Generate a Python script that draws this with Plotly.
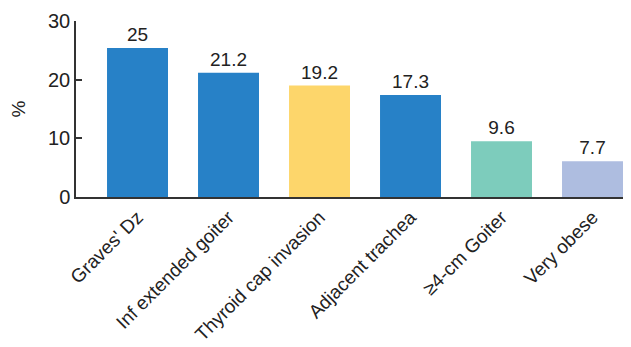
import plotly.graph_objects as go

categories = ["Graves' Dz", "Inf extended goiter", "Thyroid cap invasion",
              "Adjacent trachea", "≥4-cm Goiter", "Very obese"]
heights = [25.4, 21.2, 19.0, 17.4, 9.5, 6.1]
value_labels = ["25", "21.2", "19.2", "17.3", "9.6", "7.7"]
colors = ["#2781C7", "#2781C7", "#FDD66B", "#2781C7", "#7DCCBC", "#AEBDE0"]
y_ticks = [0, 10, 20, 30]

fig = go.Figure(go.Bar(
    x=list(range(len(categories))), y=heights,
    marker=dict(color=colors, line=dict(width=0)),
    width=0.67,
    text=value_labels, textposition="outside", cliponaxis=False,
    textfont=dict(size=19, color="#222"),
))

fig.update_layout(
    width=623, height=339,
    margin=dict(l=68, r=0, t=13, b=150),
    plot_bgcolor="white", paper_bgcolor="white",
    font=dict(family="Liberation Sans, Arial, sans-serif", color="#222"),
    showlegend=False,
    xaxis=dict(
        range=[-0.676, 5.423], automargin=False,
        tickmode="array", tickvals=list(range(len(categories))), ticktext=categories,
        tickangle=-45, tickfont=dict(size=19, color="#222"),
        showline=True, linecolor="#333", linewidth=1.5,
        ticks="", showgrid=False, zeroline=False,
    ),
    yaxis=dict(
        range=[0, 30], tickvals=y_ticks, automargin=False,
        ticks="inside", ticklen=6, tickcolor="#333", tickwidth=1.5,
        tickfont=dict(size=20, color="#222"),
        showline=True, linecolor="#333", linewidth=1.5,
        showgrid=False, zeroline=False,
        title=dict(text="%", font=dict(size=19, color="#222"), standoff=17),
    ),
)

fig.write_html("out.html")
